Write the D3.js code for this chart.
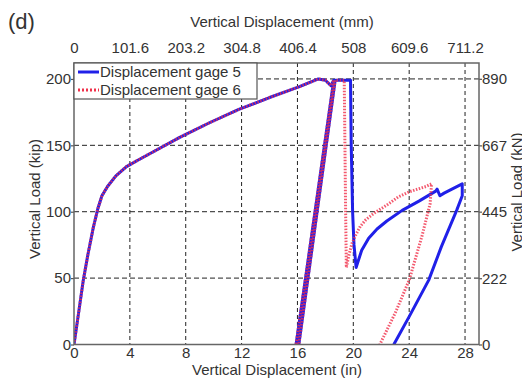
<!DOCTYPE html>
<html>
<head>
  <meta charset="utf-8">
  <script src="https://d3js.org/d3.v7.min.js"></script>
  <style>
    body { margin: 0; background: #fff; }
    svg { font-family: "Liberation Sans", Arial, sans-serif; }
    .tick text { fill: #333; font-size: 15px; }
    .tick line { stroke: #555; stroke-width: 1.2; }
    .domain { display: none; }
  </style>
</head>
<body>
<svg width="522" height="379"></svg>

<script>
  // ---- data (displacement in inches, load in kip) ----
  var loadX = [0, 0.25, 0.66, 1.0, 1.38, 1.7, 2.0, 2.4, 3.0, 3.76, 4.6, 5.65, 7.57, 9.7, 11.8, 14, 16.1, 17.5,
               18.0, 18.4, 18.6, 15.9, 16.1, 18.7];
  var loadY = [0, 18, 48, 68, 88, 102, 112, 119, 127, 134, 139, 145, 156, 167, 177, 186, 194, 200,
               199, 195, 199, 0, 0, 199];

  var gage5X = loadX.concat([19.8, 19.85, 19.95, 20.05, 20.2, 20.6, 21.1, 21.7, 22.4, 23.5, 24.7, 25.9,
                             26.0, 26.2, 26.5, 27.8, 27.8, 27.4, 26.3, 25.4, 24.0, 22.9]);
  var gage5Y = loadY.concat([199, 150, 100, 75, 58, 71, 80, 87, 93, 101, 108, 115.5,
                             117, 112, 114, 121, 112, 101, 73.5, 48.5, 21, 0]);

  var gage6X = loadX.concat([19.35, 19.4, 19.45, 19.5, 19.7, 19.9, 20.15, 20.5, 20.9, 21.5, 22.4, 23.2, 24.0, 25.2, 25.6,
                             25.5, 24.9, 24.0, 23.0, 21.9]);
  var gage6Y = loadY.concat([199, 150, 100, 58, 68, 76, 82, 89, 94, 99, 105, 111, 115, 119, 121,
                             106, 81, 48.5, 23.7, 0]);

  var inTicks = [0, 4, 8, 12, 16, 20, 24, 28];
  var mmTicks = [0, 101.6, 203.2, 304.8, 406.4, 508, 609.6, 711.2];
  var kipTicks = [0, 50, 100, 150, 200];
  var kNTicks = [0, 222, 445, 667, 890];
  var legendNames = ["Displacement gage 5", "Displacement gage 6"];

  // ---- layout ----
  var plotLeft = 74, plotRight = 479, plotTop = 63, plotBottom = 344.5;
  var xMax = 29, yMax = 212;

  var svg = d3.select("svg");

  var x = d3.scaleLinear().domain([0, xMax]).range([plotLeft, plotRight]);
  var xmm = d3.scaleLinear().domain([0, xMax * 25.4]).range([plotLeft, plotRight]);
  var y = d3.scaleLinear().domain([0, yMax]).range([plotBottom, plotTop]);
  var ykN = d3.scaleLinear().domain([0, yMax * 4.448]).range([plotBottom, plotTop]);

  // grid
  svg.append("g").selectAll("line").data(inTicks.slice(1)).enter()
      .append("line")
      .attr("x1", function(d) { return x(d); })
      .attr("x2", function(d) { return x(d); })
      .attr("y1", plotTop).attr("y2", plotBottom)
      .attr("stroke", "#222").attr("stroke-width", 1)
      .attr("stroke-dasharray", "4,3");

  svg.append("g").selectAll("line").data(kipTicks.slice(1)).enter()
      .append("line")
      .attr("y1", function(d) { return y(d); })
      .attr("y2", function(d) { return y(d); })
      .attr("x1", plotLeft).attr("x2", plotRight)
      .attr("stroke", "#222").attr("stroke-width", 1)
      .attr("stroke-dasharray", "5,3");

  // axes
  svg.append("g").attr("transform", "translate(0," + plotBottom + ")")
      .call(d3.axisBottom(x).tickValues(inTicks).tickSize(0).tickPadding(3).tickFormat(d3.format("d")));
  svg.append("g").attr("transform", "translate(0," + plotTop + ")")
      .call(d3.axisTop(xmm).tickValues(mmTicks).tickSize(0).tickPadding(10).tickFormat(function(d) { return String(d); }));
  svg.append("g").attr("transform", "translate(" + plotLeft + ",0)")
      .call(d3.axisLeft(y).tickValues(kipTicks).tickSize(3).tickPadding(0));
  svg.append("g").attr("transform", "translate(" + plotRight + ",0)")
      .call(d3.axisRight(ykN).tickValues(kNTicks).tickSize(3).tickPadding(0));

  svg.selectAll(".tick text").attr("font-family", null).attr("font-size", null);

  // clip for data
  svg.append("clipPath").attr("id", "plot")
      .append("rect").attr("x", plotLeft).attr("y", plotTop - 2)
      .attr("width", plotRight - plotLeft).attr("height", plotBottom - plotTop + 2);

  var line = d3.line()
      .x(function(d) { return x(d[0]); })
      .y(function(d) { return y(d[1]); });

  var g5 = d3.zip(gage5X, gage5Y);
  var g6 = d3.zip(gage6X, gage6Y);

  var plot = svg.append("g").attr("clip-path", "url(#plot)");

  plot.append("path").datum(g5)
      .attr("d", line)
      .attr("fill", "none")
      .attr("stroke", "#2020e8")
      .attr("stroke-width", 3)
      .attr("stroke-linejoin", "round");

  plot.append("path").datum(g6)
      .attr("d", line)
      .attr("fill", "none")
      .attr("stroke", "#f0304a")
      .attr("stroke-opacity", 0.8)
      .attr("stroke-width", 3)
      .attr("stroke-dasharray", "1.5,1.5");

  // frame
  svg.append("rect")
      .attr("x", plotLeft).attr("y", plotTop)
      .attr("width", plotRight - plotLeft).attr("height", plotBottom - plotTop)
      .attr("fill", "none").attr("stroke", "#666").attr("stroke-width", 1.5);

  // legend
  var legend = svg.append("g");
  legend.append("rect")
      .attr("x", plotLeft).attr("y", plotTop)
      .attr("width", 183).attr("height", 36)
      .attr("fill", "#fff").attr("stroke", "#555").attr("stroke-width", 1.2);

  var rows = legend.selectAll("g.row").data(legendNames).enter()
      .append("g").attr("class", "row")
      .attr("transform", function(d, i) { return "translate(0," + (plotTop + 9 + i * 18) + ")"; });

  rows.append("line")
      .attr("x1", plotLeft + 4).attr("x2", plotLeft + 25)
      .attr("y1", 0).attr("y2", 0)
      .attr("stroke", function(d, i) { return i === 0 ? "#2020e8" : "#f0304a"; })
      .attr("stroke-width", 3)
      .attr("stroke-dasharray", function(d, i) { return i === 0 ? null : "2,2"; });

  rows.append("text")
      .attr("x", plotLeft + 26).attr("y", 5)
      .attr("font-size", 15).attr("fill", "#333")
      .text(function(d) { return d; });

  // titles
  svg.append("text").attr("x", 8).attr("y", 29)
      .attr("font-size", 22).attr("fill", "#333").text("(d)");

  svg.append("text").attr("x", 282).attr("y", 27)
      .attr("text-anchor", "middle").attr("font-size", 15).attr("fill", "#333")
      .text("Vertical Displacement (mm)");

  svg.append("text").attr("x", 277).attr("y", 375)
      .attr("text-anchor", "middle").attr("font-size", 15).attr("fill", "#333")
      .text("Vertical Displacement (in)");

  svg.append("text")
      .attr("transform", "translate(40,199) rotate(-90)")
      .attr("text-anchor", "middle").attr("font-size", 15).attr("fill", "#333")
      .text("Vertical Load (kip)");

  svg.append("text")
      .attr("transform", "translate(522,192) rotate(-90)")
      .attr("text-anchor", "middle").attr("font-size", 15).attr("fill", "#333")
      .text("Vertical Load (kN)");
</script>
</body>
</html>
